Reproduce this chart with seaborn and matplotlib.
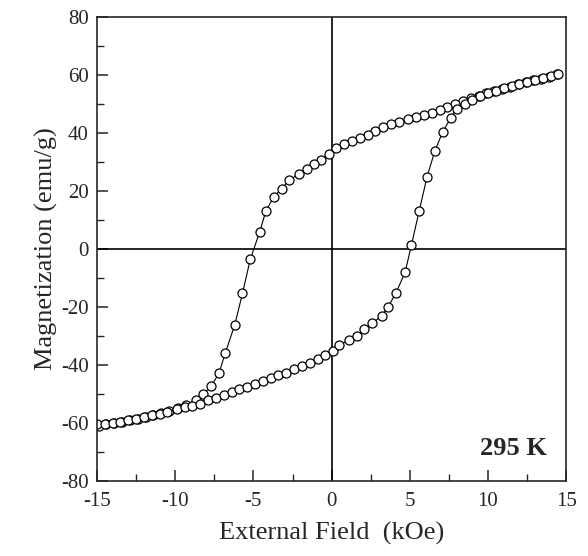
"""
Hysteresis loop at 295 K: magnetization vs external field.
"""
import matplotlib
matplotlib.use("Agg")
import matplotlib.pyplot as plt
import seaborn as sns
from matplotlib.ticker import MultipleLocator

# descending branch (field swept from +15 to -15 kOe)
FIELD_DOWN = [14.4, 13.9, 13.4, 12.9, 12.4, 11.9, 11.4, 10.9, 10.4, 9.9,
              9.4, 8.9, 8.4, 7.9, 7.4, 6.9, 6.4, 5.9, 5.4, 4.9,
              4.3, 3.8, 3.3, 2.8, 2.3, 1.8, 1.3, 0.8, 0.3, -0.2,
              -0.7, -1.1, -1.6, -2.1, -2.7, -3.2, -3.7, -4.2, -4.6, -5.2,
              -5.7, -6.2, -6.8, -7.2, -7.7, -8.2, -8.7, -9.3, -9.8, -10.4,
              -10.9, -11.4, -11.9, -12.4, -12.9, -13.4, -13.9, -14.4, -14.9]
MAG_DOWN = [60.3, 59.4, 58.7, 58.2, 57.5, 56.8, 56.0, 55.3, 54.6, 53.7,
            52.9, 52.1, 51.0, 49.9, 48.9, 47.9, 47.1, 46.4, 45.6, 44.8,
            43.7, 43.0, 42.0, 40.8, 39.4, 38.3, 37.2, 36.1, 34.8, 32.7,
            30.9, 29.2, 27.6, 26.0, 23.7, 20.9, 18.0, 13.2, 5.9, -3.5,
            -15.3, -26.3, -35.8, -42.9, -47.2, -50.1, -52.1, -53.9, -54.9, -55.9,
            -56.7, -57.2, -57.8, -58.5, -59.1, -59.5, -60.1, -60.5, -60.9]

# ascending branch (field swept from -15 to +15 kOe)
FIELD_UP = [-15.0, -14.5, -14.0, -13.5, -13.0, -12.5, -12.0, -11.5, -11.0, -10.5,
            -9.9, -9.4, -8.9, -8.4, -7.9, -7.4, -6.9, -6.4, -5.9, -5.4,
            -4.9, -4.4, -3.9, -3.4, -2.9, -2.4, -1.9, -1.4, -0.9, -0.4,
            0.1, 0.5, 1.1, 1.6, 2.1, 2.6, 3.2, 3.6, 4.1, 4.7,
            5.1, 5.6, 6.1, 6.6, 7.1, 7.6, 8.0, 8.5, 9.0, 9.5,
            10.0, 10.5, 11.0, 11.5, 12.0, 12.5, 13.0, 13.5, 14.0, 14.5]
MAG_UP = [-60.4, -60.4, -60.0, -59.6, -59.1, -58.6, -58.0, -57.4, -56.8, -56.1,
          -55.3, -54.6, -54.0, -53.4, -52.1, -51.3, -50.3, -49.3, -48.2, -47.5,
          -46.6, -45.4, -44.4, -43.4, -42.6, -41.5, -40.3, -39.2, -37.8, -36.6,
          -35.1, -33.1, -31.4, -29.9, -27.7, -25.6, -23.0, -20.0, -15.3, -8.0,
          1.4, 13.2, 24.9, 33.9, 40.4, 45.1, 48.5, 50.2, 51.6, 52.8,
          53.8, 54.7, 55.5, 56.3, 57.0, 57.7, 58.4, 59.0, 59.7, 60.4]

X_TICKS = [-15, -10, -5, 0, 5, 10, 15]
Y_TICKS = [-80, -60, -40, -20, 0, 20, 40, 60, 80]

sns.set_style("ticks")
plt.rcParams["font.family"] = ["Liberation Serif", "DejaVu Serif"]
plt.rcParams["axes.linewidth"] = 1.2

fig = plt.figure(figsize=(5.88, 5.56), dpi=100)
ax = fig.add_axes([0.165, 0.135, 0.798, 0.834])

marker_kw = dict(marker="o", markersize=6.5, markerfacecolor="white",
                 markeredgecolor="black", markeredgewidth=0.9,
                 color="black", linewidth=0.8)
sns.lineplot(x=FIELD_DOWN, y=MAG_DOWN, sort=False, ax=ax, **marker_kw)
sns.lineplot(x=FIELD_UP, y=MAG_UP, sort=False, ax=ax, **marker_kw)

# crosshair through the origin
ax.axhline(0, color="black", linewidth=1.2, zorder=1)
ax.axvline(0, color="black", linewidth=1.2, zorder=1)

ax.set_xlim(-15, 15)
ax.set_ylim(-80, 80)
ax.set_xticks(X_TICKS)
ax.set_yticks(Y_TICKS)
ax.set_xticklabels([str(t) for t in X_TICKS])
ax.set_yticklabels([str(t) for t in Y_TICKS])
ax.xaxis.set_minor_locator(MultipleLocator(2.5))
ax.yaxis.set_minor_locator(MultipleLocator(10))
ax.tick_params(which="major", direction="in", length=8, width=1.1,
               labelsize=15, top=False, right=False)
ax.tick_params(axis="x", which="major", pad=8)
ax.tick_params(axis="y", which="major", pad=6)
ax.tick_params(which="minor", direction="in", length=5, width=1.0,
               top=False, right=False)
for s in ax.spines.values():
    s.set_visible(True)

ax.set_xlabel("External Field  (kOe)", fontsize=19, labelpad=8)
ax.set_ylabel("Magnetization (emu/g)", fontsize=19, labelpad=2)

ax.text(0.96, 0.07, "295 K", transform=ax.transAxes, ha="right", va="center",
        fontsize=19, fontweight="bold")

fig.savefig("out.png", dpi=100, facecolor="white")
